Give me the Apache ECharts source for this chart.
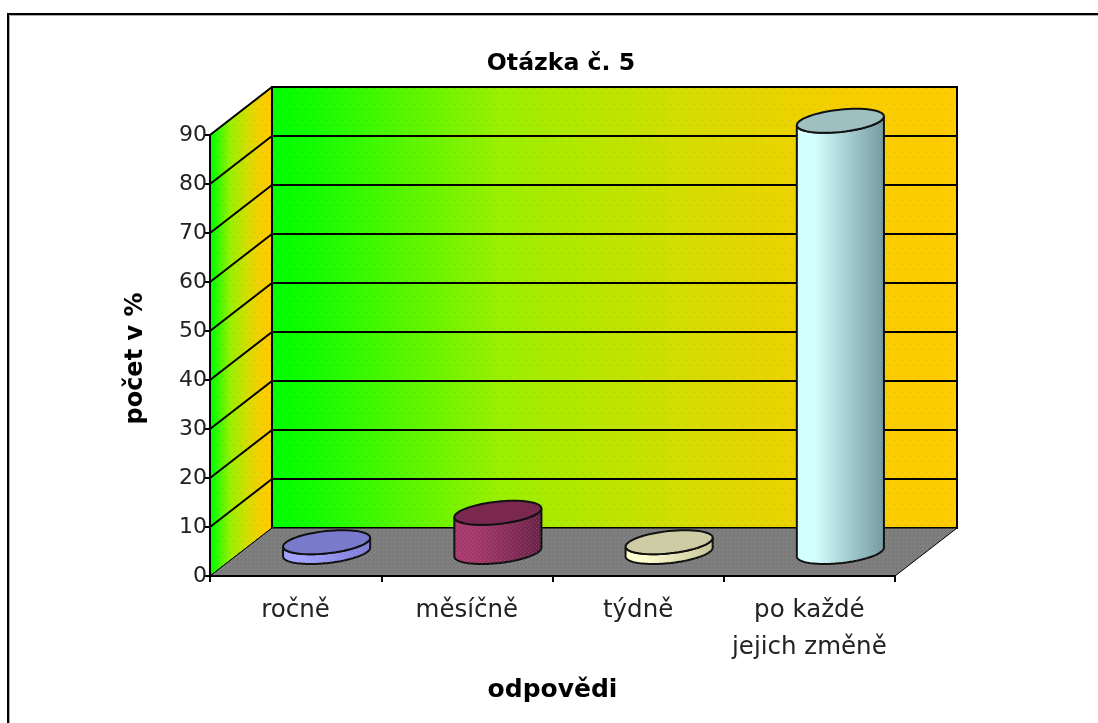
<!DOCTYPE html>
<html><head><meta charset="utf-8">
<style>html,body{margin:0;padding:0;background:#fff}#c{width:1098px;height:723px}</style>
<script src="https://cdn.jsdelivr.net/npm/echarts@6/dist/echarts.min.js"></script>
</head><body><div id="c"></div>
<script>
const categories = ['ročně', 'měsíčně', 'týdně', 'po každé\njejich změně'];
const values = [2, 8, 2, 88];
const yTicks = [0, 10, 20, 30, 40, 50, 60, 70, 80, 90];
const sideColors = [['#a0a0ff', '#7c7cd6'], ['#a8386c', '#6b2348'], ['#ffffcf', '#c4c49a'], ['#d2ffff', '#7299a0']];
const topColors = ['#7a7acc', '#7a2850', '#cdcca4', '#9fc0c0'];

const DX = 62, DY = -48, A = 40.5, B = 16, C = 12;
const fontFam = '"DejaVu Sans"';
const wallGrad = (x0, x1) => new echarts.graphic.LinearGradient(x0, 0, x1, 0, [
  {offset: 0, color: '#00ff00'}, {offset: 0.05, color: '#10fd00'}, {offset: 0.33, color: '#99f000'},
  {offset: 0.62, color: '#d8dc00'}, {offset: 0.84, color: '#f7ce00'}, {offset: 1, color: '#ffcc00'}], true);

function dots(size, list, color) {
  const cv = document.createElement('canvas');
  cv.width = cv.height = size;
  const g = cv.getContext('2d');
  g.fillStyle = color;
  list.forEach(p => g.fillRect(p[0], p[1], 1, 1));
  return {image: cv, repeat: 'repeat'};
}
const wallDots = dots(16, [[2, 3], [10, 3], [6, 8], [14, 8], [1, 13], [9, 13]], 'rgba(0,0,0,0.13)');
const floorDots = dots(4, [[0, 0], [2, 2], [1, 3]], 'rgba(0,0,0,0.12)');
const barDots = dots(4, [[0, 0], [2, 2]], 'rgba(255,255,255,0.14)');

function walls(params, api) {
  const half = api.size([1, 0])[0] / 2;
  const o = api.coord([0, 0]), t = api.coord([0, 90]), r = api.coord([3, 0]);
  const x0 = o[0] - half, y0 = o[1], yT = t[1], x1 = r[0] + half;
  const left = [[x0, y0], [x0 + DX, y0 + DY], [x0 + DX, yT + DY], [x0, yT]];
  const back = [[x0 + DX, y0 + DY], [x1 + DX, y0 + DY], [x1 + DX, yT + DY], [x0 + DX, yT + DY]];
  const floor = [[x0, y0], [x0 + DX, y0 + DY], [x1 + DX, y0 + DY], [x1, y0]];
  const ch = [
    {type: 'polygon', shape: {points: left}, style: {fill: wallGrad(x0, x0 + DX), stroke: '#000', lineWidth: 1}},
    {type: 'polygon', shape: {points: left}, style: {fill: wallDots}},
    {type: 'polygon', shape: {points: back}, style: {fill: wallGrad(x0 + DX, x1 + DX), stroke: '#000', lineWidth: 2}},
    {type: 'polygon', shape: {points: back}, style: {fill: wallDots}},
    {type: 'polygon', shape: {points: floor}, style: {fill: '#808080', stroke: '#000', lineWidth: 1}},
    {type: 'polygon', shape: {points: floor}, style: {fill: floorDots}}
  ];
  yTicks.forEach(v => {
    if (v === 0) return;
    const y = api.coord([0, v])[1];
    ch.push({type: 'polyline', shape: {points: [[x0, y], [x0 + DX, y + DY], [x1 + DX, y + DY]]},
      style: {fill: 'none', stroke: '#000', lineWidth: 2}});
  });
  return {type: 'group', children: ch};
}

function ellipsePts(cx, cy, t0, t1) {
  const pts = [];
  for (let i = 0; i <= 64; i++) {
    const t = t0 + (t1 - t0) * i / 64;
    pts.push([cx + A * Math.cos(t) + B * Math.sin(t), cy - C * Math.sin(t)]);
  }
  return pts;
}

function cylinder(params, api) {
  const i = api.value(0), v = api.value(1);
  const base = api.coord([i, 0]), top = api.coord([i, v]);
  const cx = base[0] + DX / 2, by = base[1] + DY / 2, ty = top[1] + DY / 2;
  const tx = Math.atan2(B, A);
  const lowerTop = ellipsePts(cx, ty, tx + Math.PI, tx + 2 * Math.PI);
  const lowerBase = ellipsePts(cx, by, tx + Math.PI, tx + 2 * Math.PI);
  const side = lowerBase.concat(lowerTop.slice().reverse());
  const c = sideColors[i];
  const sx = cx - Math.hypot(A, B), ex = cx + Math.hypot(A, B);
  return {type: 'group', children: [
    {type: 'polygon', shape: {points: side}, style: {
      fill: new echarts.graphic.LinearGradient(sx, 0, ex, 0, [
        {offset: 0, color: c[0]}, {offset: 0.2, color: c[0]}, {offset: 1, color: c[1]}], true),
      stroke: '#111', lineWidth: 2}},
    {type: 'polygon', shape: {points: side}, style: {fill: barDots}},
    {type: 'polygon', shape: {points: ellipsePts(cx, ty, 0, 2 * Math.PI)},
      style: {fill: topColors[i], stroke: '#111', lineWidth: 2}}
  ]};
}

const chart = echarts.init(document.getElementById('c'), null, {renderer: 'canvas'});
chart.setOption({
  animation: false,
  backgroundColor: '#fff',
  title: {text: 'Otázka č. 5', left: 556, top: 47, textAlign: 'center',
    textStyle: {fontFamily: fontFam, fontWeight: 'bold', fontSize: 23.6, color: '#000'}},
  graphic: [
    {type: 'polyline', shape: {points: [[9.5, 723], [9.5, 15.5], [1098, 15.5]]},
      style: {fill: 'none', stroke: '#aaa', lineWidth: 1}, silent: true},
    {type: 'polyline', shape: {points: [[8, 723], [8, 14], [1098, 14]]},
      style: {fill: 'none', stroke: '#000', lineWidth: 2}, silent: true}
  ],
  grid: {left: 210, top: 135, width: 685, height: 441},
  xAxis: {type: 'category', data: categories, boundaryGap: true,
    axisLine: {show: true, onZero: false, lineStyle: {color: '#000', width: 2}},
    axisTick: {show: true, alignWithLabel: false, length: 6, lineStyle: {color: '#000', width: 2}},
    axisLabel: {fontFamily: fontFam, fontSize: 24.5, color: '#222', margin: 16, lineHeight: 37, interval: 0},
    name: 'odpovědi', nameLocation: 'middle', nameGap: 102,
    nameTextStyle: {fontFamily: fontFam, fontWeight: 'bold', fontSize: 25, color: '#000'},
    splitLine: {show: false}, z: 5},
  yAxis: {type: 'value', min: 0, max: 90, interval: 10,
    axisLine: {show: true, lineStyle: {color: '#000', width: 2}},
    axisTick: {show: true, length: 6, lineStyle: {color: '#000', width: 2}},
    axisLabel: {fontFamily: fontFam, fontSize: 22, color: '#222', margin: 3, padding: [2, 0, 0, 0]},
    name: 'počet v %', nameLocation: 'middle', nameGap: 62, nameRotate: 90,
    nameTextStyle: {fontFamily: fontFam, fontWeight: 'bold', fontSize: 24, color: '#000', padding: [0, 6, 0, 0]},
    splitLine: {show: false}, z: 5},
  series: [
    {type: 'custom', data: [[0, 0]], renderItem: walls, clip: false, z: 1, silent: true},
    {type: 'custom', data: values.map((v, i) => [i, v]), encode: {x: 0, y: 1},
      renderItem: cylinder, clip: false, z: 2, silent: true}
  ]
});
</script></body></html>
